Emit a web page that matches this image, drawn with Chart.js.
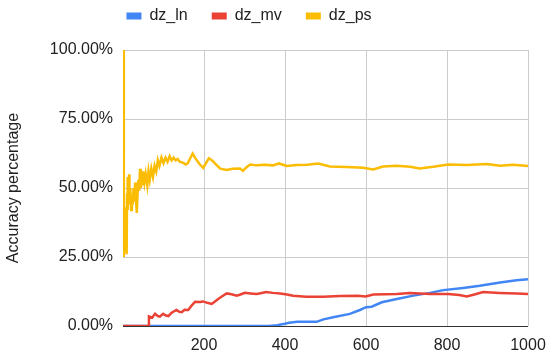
<!DOCTYPE html>
<html>
<head>
<meta charset="utf-8">
<script src="https://cdn.jsdelivr.net/npm/chart.js@4"></script>
<style>
    html, body { margin: 0; padding: 0; background: #fff; }
    #wrap { width: 550px; height: 355px; }
</style>
</head>
<body>
<div id="wrap"><canvas id="myChart" width="550" height="355"></canvas></div>
<script>
// values (x = sample number, y = accuracy %)
const seriesNames = ["dz_ln", "dz_mv", "dz_ps"];
const seriesColors = ["#4285f4", "#ea4335", "#fbbc04"];
const xTicks = [200, 400, 600, 800, 1000];
const yTicks = [0, 25, 50, 75, 100];

const lnX = [0, 360, 380, 400, 410, 430, 478, 495, 519, 560, 585, 600, 614, 639, 676, 717, 758, 791, 840, 881, 931, 972, 1000];
const lnY = [0, 0, 0.3, 0.8, 1.2, 1.5, 1.5, 2.4, 3.2, 4.4, 5.8, 6.8, 7.0, 8.6, 9.8, 11.0, 12.0, 13.0, 13.8, 14.6, 15.8, 16.6, 16.9];

const mvX = [0, 62, 64, 72, 79, 86, 91, 99, 106, 112, 120, 132, 138, 145, 152, 161, 170, 178, 190, 198, 208, 219, 228, 235, 245, 256, 268, 281, 290, 301, 315, 330, 340, 353, 370, 388, 405, 420, 453, 494, 536, 580, 599, 618, 676, 709, 758, 803, 830, 849, 870, 889, 930, 972, 1000];
const mvY = [0, 0, 3.5, 3.0, 4.4, 3.6, 3.4, 4.4, 3.8, 3.6, 4.8, 5.8, 5.2, 5.0, 5.9, 5.8, 7.5, 8.8, 8.7, 8.9, 8.4, 8.0, 9.0, 9.8, 10.8, 11.8, 11.5, 11.0, 11.4, 12.0, 11.8, 11.6, 11.9, 12.3, 12.0, 11.8, 11.4, 11.0, 10.6, 10.6, 10.9, 11.0, 10.7, 11.4, 11.6, 12.0, 11.6, 11.6, 11.2, 10.7, 11.5, 12.3, 12.0, 11.8, 11.6];

const psX = [1, 2, 3, 4, 5, 6, 7, 8, 9, 10, 11, 12, 13, 14, 15, 16, 18, 20, 22, 24, 26, 28, 30, 32, 34, 36, 38, 40, 42, 44, 46, 48, 50, 53, 56, 60, 63, 66, 70, 74, 78, 82, 86, 90, 95, 100, 105, 110, 115, 120, 125, 130, 135, 140, 150, 155, 160, 165, 172, 180, 190, 198, 205, 212, 220, 230, 240, 256, 270, 289, 296, 305, 314, 330, 350, 370, 385, 404, 429, 455, 482, 511, 552, 593, 618, 642, 676, 709, 733, 766, 803, 849, 898, 931, 963, 1000];
const psY = [100, 25, 38, 43, 30, 27, 40, 31, 26, 48, 54, 42, 52, 46, 55, 44, 50, 42, 47, 44, 50, 45, 52, 47, 41, 48, 53, 49, 57, 50, 54, 51, 56, 52, 55, 51, 56, 53, 57, 54, 58, 56, 60, 58, 61, 59, 61, 59.5, 61.5, 60, 61, 60, 60.5, 59.5, 59, 58.5, 59, 60.5, 62.5, 60.5, 58.5, 57.3, 59, 60.8, 60, 58.5, 57, 56.5, 57, 57.1, 56.2, 57.5, 58.5, 58.2, 58.4, 58.2, 58.9, 58, 58.3, 58.4, 58.9, 57.8, 57.6, 57.3, 56.7, 57.8, 58.1, 57.7, 57.1, 57.7, 58.5, 58.3, 58.7, 58.1, 58.4, 58.0];

function toPoints(xs, ys) {
    return xs.map((x, i) => ({ x: x, y: ys[i] }));
}

const textColor = "#222";
const font16 = { family: "Arial, 'Liberation Sans', sans-serif", size: 16 };

// move the legend up and left like the original
const legendShift = {
    id: "legendShift",
    afterLayout(chart) {
        chart.legend.left -= 26;
        chart.legend.right -= 26;
        chart.legend.top -= 16;
    }
};

new Chart("myChart", {
    type: "line",
    data: {
        datasets: [
            { label: seriesNames[0], data: toPoints(lnX, lnY), borderColor: seriesColors[0], backgroundColor: seriesColors[0], order: 2 },
            { label: seriesNames[1], data: toPoints(mvX, mvY), borderColor: seriesColors[1], backgroundColor: seriesColors[1], order: 1 },
            { label: seriesNames[2], data: toPoints(psX, psY), borderColor: seriesColors[2], backgroundColor: seriesColors[2], order: 0 }
        ]
    },
    options: {
        responsive: false,
        animation: false,
        elements: {
            point: { radius: 0 },
            line: { borderWidth: 2.5, tension: 0 }
        },
        layout: { padding: 0 },
        plugins: {
            tooltip: { enabled: false },
            legend: {
                position: "top",
                labels: {
                    font: font16,
                    color: textColor,
                    boxWidth: 15,
                    boxHeight: 7,
                    padding: 24,
                    sort: (a, b) => a.datasetIndex - b.datasetIndex,
                    generateLabels: chart => Chart.defaults.plugins.legend.labels.generateLabels(chart)
                        .map(l => ({ ...l, lineWidth: 0 }))
                }
            }
        },
        scales: {
            x: {
                type: "linear",
                min: 0,
                max: 1000,
                afterBuildTicks: s => { s.ticks = [0].concat(xTicks).map(v => ({ value: v })); },
                afterFit: s => { s.height = 29; s.paddingRight = 22; },
                ticks: {
                    font: font16,
                    color: textColor,
                    padding: 10,
                    maxRotation: 0,
                    autoSkip: false,
                    callback: v => v === 0 ? "" : v
                },
                grid: {
                    drawTicks: false,
                    color: c => c.tick && c.tick.value === 0 ? "rgba(0,0,0,0)" : "#cccccc"
                },
                border: { display: false }
            },
            y: {
                min: 0,
                max: 100,
                afterBuildTicks: s => { s.ticks = yTicks.map(v => ({ value: v })); },
                afterFit: s => { s.width = 123; },
                ticks: {
                    font: font16,
                    color: textColor,
                    padding: 10,
                    callback: v => v.toFixed(2) + "%"
                },
                grid: {
                    drawTicks: false,
                    color: c => c.tick && c.tick.value === 0 ? "#333333" : "#cccccc"
                },
                border: { display: false },
                title: {
                    display: true,
                    text: "Accuracy percentage",
                    font: font16,
                    color: textColor
                }
            }
        }
    },
    plugins: [legendShift]
});
</script>
</body>
</html>
